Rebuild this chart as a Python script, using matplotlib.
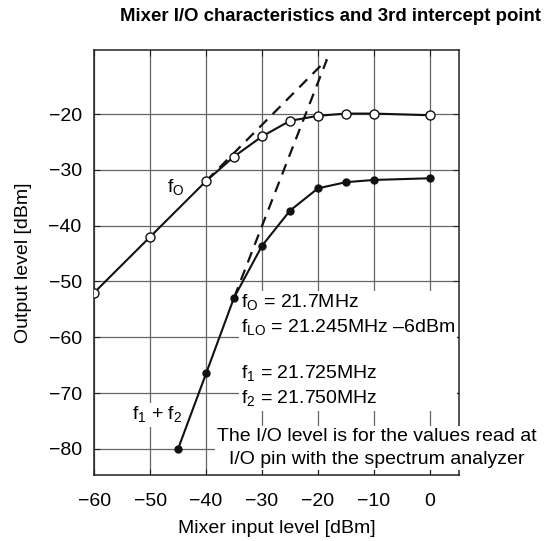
import matplotlib
matplotlib.use("Agg")
import matplotlib.pyplot as plt

plt.rcParams['font.family'] = ['Liberation Sans', 'DejaVu Sans']
plt.rcParams['mathtext.fontset'] = 'custom'
plt.rcParams['mathtext.rm'] = 'Liberation Sans'

# fundamental output (open circles)
x_fo = [-60, -50, -40, -35, -30, -25, -20, -15, -10, 0]
y_fo = [-52, -42, -32, -27.6, -24, -21.2, -20.3, -19.9, -19.9, -20.2]

# 3rd order product f1 + f2 (filled circles)
x_im = [-45, -40, -35, -30, -25, -20, -15, -10, 0]
y_im = [-80, -66.5, -52.9, -43.6, -37.3, -33.3, -32.2, -31.8, -31.5]

# extrapolation lines to the intercept point
x_ext1 = [-40, -18.4]
y_ext1 = [-32, -10.2]
x_ext3 = [-35, -18.4]
y_ext3 = [-52.9, -10.2]

xticks = [-60, -50, -40, -30, -20, -10, 0]
yticks = [-80, -70, -60, -50, -40, -30, -20]

fs = 14

fig = plt.figure(figsize=(5.54, 5.41), dpi=100)
ax = fig.add_axes([0.170, 0.122, 0.6585, 0.7856])

ax.set_xlim(-60, 5.2)
ax.set_ylim(-84.7, -8.5)
ax.set_xticks(xticks)
ax.set_yticks(yticks)
ax.set_axisbelow(True)
ax.grid(True, color='#666666', lw=0.9)
ax.tick_params(direction='in', length=4, top=True, right=True,
               labelsize=fs, color='#222222')
ax.tick_params(axis='x', pad=13)
ax.tick_params(axis='y', pad=9)
for s in ax.spines.values():
    s.set_linewidth(1.1)
    s.set_color('#222222')

ax.plot(x_ext1, y_ext1, color='#111111', lw=1.6, ls=(0, (5, 3.5)), zorder=2)
ax.plot(x_ext3, y_ext3, color='#111111', lw=1.6, ls=(0, (5, 3.5)), zorder=2)

ax.plot(x_fo, y_fo, color='#111111', lw=1.5, marker='o', ms=6.5,
        mfc='white', mec='#111111', mew=1.0, zorder=4)
ax.plot(x_im, y_im, color='#111111', lw=1.5, marker='o', ms=5,
        mfc='#111111', mec='#111111', zorder=4)

ax.text(-45.4, -33.3, r'f$_\mathregular{O}$', fontsize=fs, ha='center', va='center')
ax.text(-48.7, -73.9, r'f$_\mathregular{1}$ + f$_\mathregular{2}$', fontsize=fs,
        ha='center', va='center', zorder=1.8,
        bbox=dict(boxstyle='square,pad=0.1', fc='white', ec='none'))

info = (r'f$_\mathregular{O}$ = 21.7MHz' + '\n'
        + r'f$_\mathregular{LO}$ = 21.245MHz –6dBm' + '\n'
        + r' $_\mathregular{\ }$' + '\n'
        + r'f$_\mathregular{1}$ = 21.725MHz' + '\n'
        + r'f$_\mathregular{2}$ = 21.750MHz')
ax.text(-33.8, -52.1, info, fontsize=fs, ha='left', va='top', linespacing=1.3,
        zorder=1.8, bbox=dict(boxstyle='square,pad=0.1', fc='white', ec='none'))

ax.text(-9.5, -79.9, 'The I/O level is for the values read at\nI/O pin with the spectrum analyzer',
        fontsize=fs, ha='center', va='center', multialignment='center', linespacing=1.45,
        zorder=3, bbox=dict(boxstyle='square,pad=0.1', fc='white', ec='none'))

ax.set_xlabel('Mixer input level [dBm]', fontsize=fs, labelpad=7)
ax.set_ylabel('Output level [dBm]', fontsize=fs, labelpad=12)
fig.text(0.596, 0.970, 'Mixer I/O characteristics and 3rd intercept point',
         fontsize=13.4, fontweight='bold', ha='center', va='center')

fig.savefig('out.png', dpi=100)
